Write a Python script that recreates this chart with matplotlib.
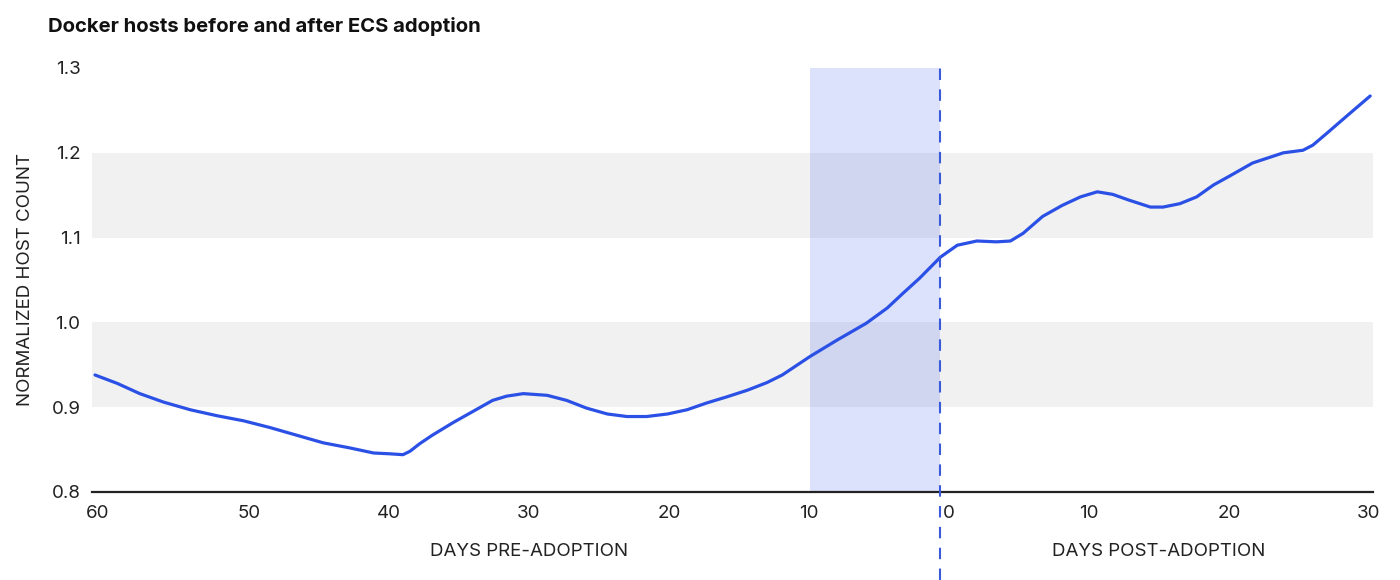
import matplotlib
matplotlib.use("Agg")
import matplotlib.pyplot as plt
from matplotlib import transforms

plt.rcParams['font.family'] = ['Inter', 'DejaVu Sans']

# --- data (days relative to adoption, normalized host count) ---
days = [-61.0, -59.4, -57.8, -56.1, -54.2, -52.3, -50.4, -48.5, -46.6, -44.7,
        -42.8, -41.1, -39.9, -39.0, -38.5, -37.8, -36.9, -35.4, -34.0, -32.6,
        -31.6, -30.4, -28.7, -27.3, -25.9, -24.4, -23.0, -21.6, -20.1, -18.7,
        -17.3, -15.9, -14.4, -13.0, -11.9, -9.9, -8.0, -5.9, -4.4, -3.3,
        -2.1, -0.6, 0.6, 2.0, 3.4, 4.4, 5.3, 6.7, 8.1, 9.4,
        10.6, 11.7, 12.9, 14.4, 15.3, 16.5, 17.7, 18.9, 20.1, 21.7,
        23.9, 25.3, 26.0, 27.0, 28.4, 30.1]
hosts = [0.938, 0.928, 0.916, 0.906, 0.897, 0.890, 0.884, 0.876, 0.867, 0.858,
         0.852, 0.846, 0.845, 0.844, 0.848, 0.857, 0.867, 0.882, 0.895, 0.908,
         0.913, 0.916, 0.914, 0.908, 0.899, 0.892, 0.889, 0.889, 0.892, 0.897,
         0.905, 0.912, 0.920, 0.929, 0.938, 0.960, 0.979, 0.999, 1.017, 1.034,
         1.052, 1.077, 1.091, 1.096, 1.095, 1.096, 1.105, 1.125, 1.138, 1.148,
         1.154, 1.151, 1.144, 1.136, 1.136, 1.140, 1.148, 1.162, 1.173, 1.188,
         1.200, 1.203, 1.209, 1.223, 1.243, 1.267]

x_ticks = [-60, -50, -40, -30, -20, -10, 0, 10, 20, 30]
x_ticklabels = ['60', '50', '40', '30', '20', '10', '0', '10', '20', '30']
y_ticks = [0.8, 0.9, 1.0, 1.1, 1.2, 1.3]
y_ticklabels = ['0.8', '0.9', '1.0', '1.1', '1.2', '1.3']
bands = [(0.9, 1.0), (1.1, 1.2)]
window = (-9.9, -0.65)     # shaded pre-adoption window
adoption_day = -0.65

BLUE = '#2b50e6'
TEXT = '#222222'

fig = plt.figure(figsize=(14, 5.8), dpi=100)
ax = fig.add_axes([91.5 / 1400, 1 - 492 / 580, (1373 - 91.5) / 1400, (492 - 68) / 580])

# gray bands
for lo, hi in bands:
    ax.axhspan(lo, hi, color='#f1f1f1', lw=0, zorder=0)

# shaded window
ax.axvspan(window[0], window[1], color='#3355ee', alpha=0.167, lw=0, zorder=1)

# main curve
ax.plot(days, hosts, color=BLUE, lw=2.3, solid_capstyle='round', solid_joinstyle='round', zorder=3)

# baseline
ax.axhline(0.8, color=TEXT, lw=1.6, zorder=4, clip_on=False)

# adoption line, runs down through the label area
trans = transforms.blended_transform_factory(ax.transData, fig.transFigure)
ax.plot([adoption_day, adoption_day], [0, 1 - 68 / 580], transform=trans,
        color='#3a5bd9', lw=1.5, dashes=(5.5, 4.5), clip_on=False, zorder=5)

ax.set_xlim(-61.25, 30.3)
ax.set_ylim(0.8, 1.3)
ax.set_xticks(x_ticks)
ax.set_xticklabels(x_ticklabels)
ax.set_yticks(y_ticks)
ax.set_yticklabels(y_ticklabels)
ax.tick_params(axis='both', length=0, labelsize=13.5, colors=TEXT)
ax.tick_params(axis='x', pad=9)
ax.tick_params(axis='y', pad=8)
for s in ax.spines.values():
    s.set_visible(False)

# nudge the first label so it stays inside the plot edge
lbl0 = ax.get_xticklabels()[0]
lbl0.set_transform(lbl0.get_transform() + transforms.ScaledTranslation(-8 / 72, 0, fig.dpi_scale_trans))

ax.text(-30, 1 - 551 / 580, 'DAYS PRE-ADOPTION', transform=trans, ha='center', va='center',
        fontsize=13.5, color=TEXT)
ax.text(15, 1 - 551 / 580, 'DAYS POST-ADOPTION', transform=trans, ha='center', va='center',
        fontsize=13.5, color=TEXT)

fig.text(26 / 1400, 1 - 279 / 580, 'NORMALIZED HOST COUNT', rotation=90, ha='center', va='center',
         fontsize=13.5, color=TEXT)
fig.text(48 / 1400, 1 - 27 / 580, 'Docker hosts before and after ECS adoption', ha='left', va='center',
         fontsize=14.6, fontweight='bold', color='#111111')

fig.savefig('out.png', dpi=100)
